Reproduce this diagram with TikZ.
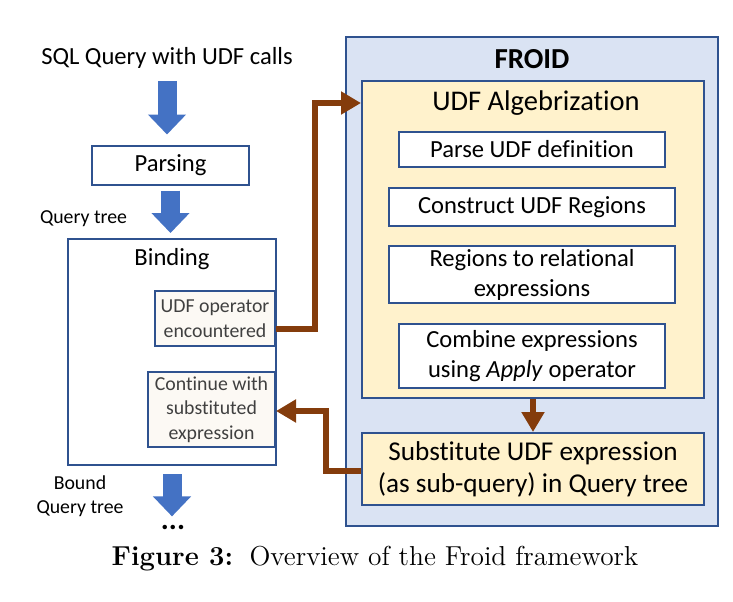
\documentclass[tikz,border=0pt]{standalone}
\usepackage{fontspec}
\setsansfont{Carlito}[Ligatures=NoCommon]
\usepackage{tikz}
\usetikzlibrary{positioning,arrows.meta,calc}
\usepackage{xcolor}
\definecolor{boxblue}{RGB}{47,82,143}
\definecolor{arrblue}{RGB}{68,114,196}
\definecolor{froidfill}{RGB}{218,227,243}
\definecolor{algfill}{RGB}{255,242,204}
\definecolor{opfill}{RGB}{252,249,244}
\definecolor{optext}{RGB}{64,64,64}
\definecolor{brownarr}{RGB}{132,60,12}

\begin{document}
\begin{tikzpicture}[
      x=0.5pt, y=-0.5pt,
      box/.style={draw=boxblue, line width=1pt, fill=white, align=center, inner sep=0pt,
                  font=\sffamily\fontsize{12.3}{15}\selectfont},
      algstep/.style={box, minimum width=133pt, node distance=9pt},
      opbox/.style={box, fill=opfill, text=optext, font=\sffamily\fontsize{9.9}{12.3}\selectfont},
      lbl/.style={align=center, inner sep=0pt, font=\sffamily\fontsize{9.9}{12}\selectfont},
      blockarr/.style={arrblue, line width=9.5pt, -{Triangle[length=10pt, width=18.5pt]}},
      brarr/.style={brownarr, line width=3.25pt, -{Triangle[length=10pt, width=11pt]}},
    ]
    \useasboundingbox (0,0) rectangle (733,601);

    % ---------- query pipeline ----------
    \node[lbl, font=\sffamily\fontsize{12.3}{15}\selectfont] (sql) at (167,58) {SQL Query with UDF calls};
    \node[box, minimum width=78.5pt, minimum height=19.5pt] (parse) at (170.5,165) {Parsing};
    \node[lbl] (qtree) at (83.5,219) {Query tree};
    \node[box, minimum width=104pt, minimum height=113pt] (binding) at (172,352) {};
    \node[lbl, font=\sffamily\fontsize{12.3}{15}\selectfont, below=10.5pt of binding.north, anchor=center] (bindtitle) {Binding};
    \node[opbox, minimum width=60pt, minimum height=27.5pt] (udfop) at (215,318.5) {UDF operator\\encountered};
    \node[opbox, minimum width=63.5pt, minimum height=37.5pt] (cont) at (211.5,409.5) {Continue with\\substituted\\expression};
    \node[lbl] (bound) at (80,496) {Bound\\Query tree};
    \node[inner sep=0pt, font=\sffamily\bfseries\fontsize{15}{15}\selectfont] (dots) at (173,527) {...};

    \draw[blockarr] ([yshift=-6pt]sql.south) -- ([yshift=5pt]sql.south |- parse.north);
    \draw[blockarr] ([yshift=-2.5pt]parse.south) -- ([yshift=2.5pt]parse.south |- binding.north);
    \draw[blockarr] ([yshift=-4pt]binding.south) -- ([yshift=4pt]binding.south |- dots.north);

    % ---------- FROID ----------
    \node[box, fill=froidfill, minimum width=186pt, minimum height=244.5pt] (froid) at (532,281.5) {};
    \node[lbl, font=\sffamily\bfseries\fontsize{14.5}{16}\selectfont] (froidtitle) at (532,59) {FROID};
    \node[box, fill=algfill, minimum width=171pt, minimum height=158.5pt] (alg) at (533,239.5) {};
    \node[lbl, font=\sffamily\fontsize{14.25}{16}\selectfont] (algtitle) at (536,103) {UDF Algebrization};

    \node[algstep, minimum height=17.5pt] (parsedef) at (532,149.5) {Parse UDF definition};
    \node[algstep, minimum width=143pt, minimum height=19pt, below=9.5pt of parsedef] (construct) {Construct UDF Regions};
    \node[algstep, minimum width=143pt, minimum height=28.5pt, below=of construct] (regions) {Regions to relational\\expressions};
    \node[algstep, minimum height=32pt, below=9.5pt of regions] (combine) {Combine expressions\\using \textit{Apply} operator};

    \node[box, fill=algfill, minimum width=171pt, minimum height=36pt,
          font=\sffamily\fontsize{13.6}{15.85}\selectfont] (subst) at (533,469)
      {Substitute UDF expression\\(as sub-query) in Query tree};

    % ---------- connectors ----------
    \draw[brarr] ([yshift=-5.25pt]udfop.east) -- ++(19.5pt,0) |- (alg.west |- algtitle);
    \draw[brarr] (alg.south) -- (subst.north);
    \draw[brarr] ([yshift=-1pt]subst.west) -- ++(-17.5pt,0) |- ([yshift=-0.75pt]cont.east);

    % ---------- caption ----------
    \node[inner sep=0pt, font=\rmfamily\fontsize{13.7}{16}\selectfont] (caption) at (375,559)
      {\textbf{Figure 3:}\hspace{0.6em}Overview of the Froid framework};
  \end{tikzpicture}
\end{document}
